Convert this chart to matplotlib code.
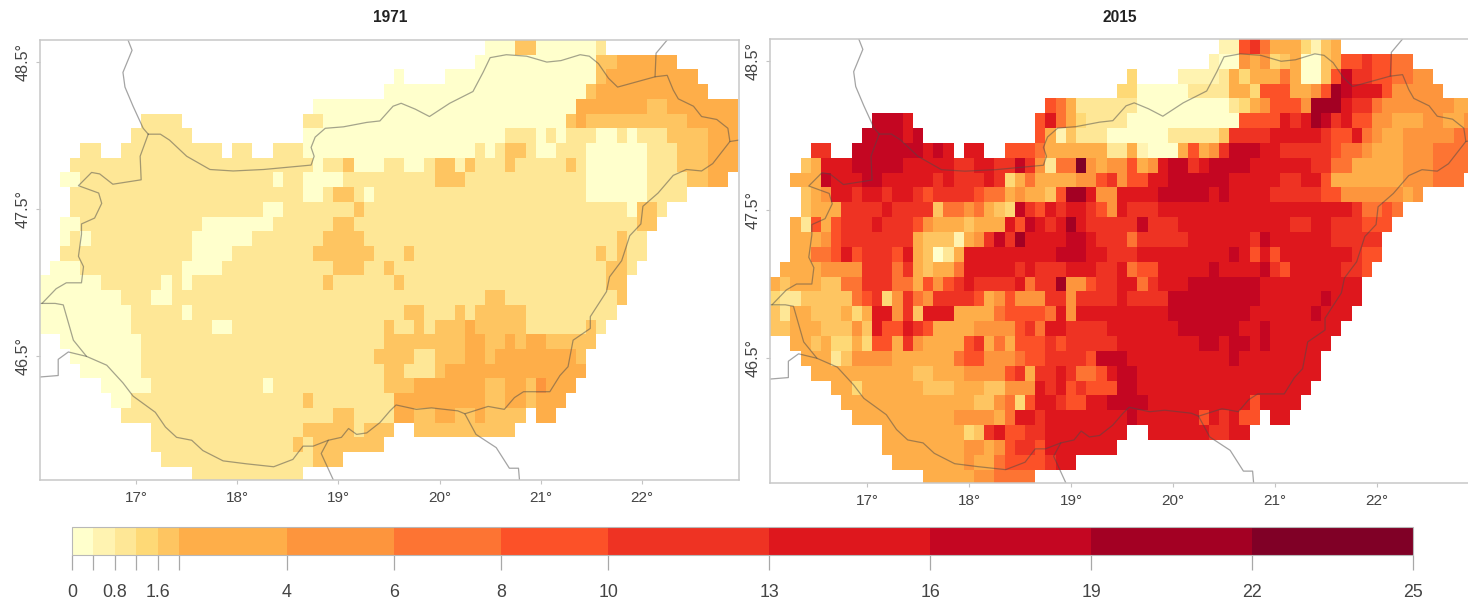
import numpy as np
import matplotlib
matplotlib.use('Agg')
import matplotlib.pyplot as plt
from matplotlib.colors import ListedColormap, BoundaryNorm
from matplotlib.cm import ScalarMappable

plt.rcParams['font.family'] = ['Liberation Sans', 'DejaVu Sans']

W, H = 1468, 601

levels = [0, 0.4, 0.8, 1.2, 1.6, 2, 4, 6, 8, 10, 13, 16, 19, 22, 25]
level_labels = ['0', '', '0.8', '', '1.6', '', '4', '6', '8', '10', '13', '16', '19', '22', '25']
colors = ['#FFFFCC', '#FFF3B1', '#FEE796', '#FED976', '#FEC561', '#FEAE49', '#FD953D', '#FD7433',
          '#FC5128', '#EE3323', '#DE171D', '#C40622', '#A30023', '#800026']

lon_ticks = [17, 18, 19, 20, 21, 22]
lat_ticks = [46.5, 47.5, 48.5]

# class of each 0.1 degree cell, rows from 48.6N down to 45.7N, columns from 16.1E to 22.9E
# 0-9,a-d = colour class, . = no data
grid_1971 = [
    "."*44+"000"+"44"+"0"*6+"2",
    "."*43+"0"*12+"44"+"5"*6,
    "."*35+"0"+"."*4+"0"*15+"4"+"5"*9,
    "."*34+"0"*20+"4"+"5"*11,
    "."*27+"0"*26+"5"*7+"44"+"5"*7,
    "."*10+"2222"+"."*12+"22"+"0"*24+"45"+"4"*10+"5"*5,
    "."*9+"2"*6+"."*11+"0"*20+"222"+"0"+"2"+"0"+"222"+"00"+"2"+"0"+"222"+"4444"+"555",
    "."*4+"22"+".."+"2"*10+"."+"22"+".."+"222"+"0"*17+"2"+"0"+"2"+"44"+"2"+"00"+"222"+"0"*6+"222"+"444"+"555",
    "."*3+"2"*24+"0"+"22"+"4"+"000"+"22"+"00"+"2"+"44"+"1"+"4"+"222"+"4"+"2"*5+"4"+"2"+"0"*6+"222"+"444"+"555",
    "."*2+"00"+"2"*19+"0"+"22"+"0000"+"2"*9+"444"+"2"*12+"0"*6+"2222"+"44"+"55",
    "."*3+"2"*23+"00"+"2"+"44"+"2"+"0"+"2"*21+"0"*6+"2222",
    "."*3+"2"*19+"00"+"2"*7+"4"+"2"*26+"0"+"44"+"2",
    "."*2+"00"+"2"*12+"0"*7+"2"*6+"44"+"2"*28+"44",
    "."*2+"0"+"2"+"0"+"2"*10+"0"*6+"2"*7+"4444"+"2"*25+"4"+"22",
    "."*2+"2"*13+"0000"+"2"*8+"4"*6+"222"+"4"+"2"*18+"4"+"2"+"4"+"22",
    "."+"000"+"2"*10+"0000"+"2"*11+"444"+"22"+"4"+"2"*21+"44"+"2",
    "0"*6+"2"*6+"0"+"2"+"0"+"2"*13+"4"+"2"*6+"4"+"2"*20+"44",
    "0"*8+"222"+"00"+"2"*31+"44"+"2"*11+"4",
    "0"*9+"2"*5+"0"+"2"*21+"44"+"222"+"4"+"2"+"44444"+"2"*9,
    "0"*9+"2"*8+"00"+"2"*15+"4"+"22"+"4"+"2"+"444"+"5"+"44444"+"2"*6+"4"+"2",
    ".."+"0"*8+"2"*24+"4"*8+"55"+"44"+"5"+"4"+"55"+"44444",
    "."*3+"0"*7+"2"*23+"4444"+"22"+"444"+"55"+"4"+"5"*8+"4",
    "."*4+"0"*6+"2"*24+"44"+"222"+"4"+"5"*14,
    "."*6+"0"*5+"2"*11+"0"+"2"*11+"444"+"5"*7+"44"+"55"+"4"+"6"+"555",
    "."*7+"00"+"2"*17+"4"+"2"*8+"5"*9+"44"+"55"+"4"+"555",
    "."*8+"2"*21+"44"+"2222"+"55"+"44"+"55"+"44"+"5"+"4444"+"."+"55",
    "."*11+"2"*15+"4"*5+"2"+"444"+".."+"4"*10,
    "."*11+"2"*14+"4"+"2"+"4"*7,
    "."*12+"2"*15+"444",
    "."*15+"2"*11,
]

grid_2015 = [
    "."*44+"11"+"897"+"555"+"3"+"1"+"45",
    "."*43+"100"+"65"+"6"+"3"+"4"+"5"+"00"+"4"+"5"+"88"+"9"+"88"+"77",
    "."*35+"3"+"."*4+"111"+"1"+"2"+"5"+"3"+"555"+"7"+"5"+"00"+"4"+"8"+"b"+"9"+"9"+"88"+"77"+"66",
    "."*34+"33"+"0"*5+"22"+"22"+"55"+"3"+"888"+"55"+"6"+"8"+"c"+"b"+"a"+"aa"+"8"+"6"*5,
    "."*27+"875"+"2"*6+"0"*9+"23"+"56"+"888"+"6"+"ccc"+"a"+"99"+"7"+"6"*7+"55",
    "."*10+"bbb"+"a"+"."*12+"8a75"+"32222"+"0"*11+"8888"+"a9acb9a"+"88"+"66"+"555"+"66"+"55"+"6",
    "."*9+"bbbb"+"ab"+"."*11+"8514"+"222"+"0"*6+"2"*5+"4"+"9999"+"a"*5+"9"+"88"+"a"+"76"+"55"+"6"*5+"77",
    "."*4+"99"+".."+"b"*7+"aba"+"."+"aa"+".."+"888"+"75"+"55555"+"22"+"51"+"000"+"58569"+"bbb"+"aa"+"9"*5+"8"+"77"+"6"+"555"+"666"+"777"+"7",
    "."*3+"45"+"aaa"+"b"*5+"aa"+"aaa"+"99"+"aa"+"99"+"b"+"9"+"6"+"2"+"77"+"d"+"65"+"66"+"8"+"5"+"6"+"a"+"bb"+"9"+"a"+"bbbb"+"a"*6+"99"+"77"+"5"*5+"666"+"7777",
    "."*2+"555"+"b"+"aaa"+"bb"+"a"*5+"9"+"a"+"999"+"a"+"9"+"357"+"5555"+"66"+"8"+"96"+"88"+"aa"+"b"*6+"a"*5+"99"+"aa"+"8"+"5"*7+"666"+"777",
    "."*3+"456"+"aa"+"9"+"aa"+"9"+"aa"+"98"+"9999"+"8"+"77"+"56554"+"8"+"cc"+"a"+"66"+"a"+"aaa"+"b"*5+"ab"+"aaaa"+"9"*5+"88"+"6"*6+"56",
    "."*3+"4555"+"9999"+"a"+"9999"+"4"+"77"+"67543"+"b"+"98a9"+"aa"+"98"+"6a"+"999"+"a"*19+"9"+"77"+"87",
    "."*2+"52858"+"999"+"a"+"999"+"86"+"555"+"4"+"555"+"a8ba9ac"+"a"+"99"+"9"+"99"+"b"+"999"+"a"*11+"99"+"aa"+"999"+"888",
    "."*2+"55568"+"9"*7+"5"+"444"+"1569b9c"+"aaaa"+"bb"+"a"+"9"+"99"+"7"+"9"*5+"a"*6+"9"+"b"+"a"*6+"999"+"99",
    "."*2+"55"+"77"+"8a8"+"999"+"8a54025"+"a"*9+"bbb"+"aa"+"999"+"a"*9+"ba8a8"+"a"*7+"9"+"88",
    "."+"5555"+"6666"+"999"+"7954"+"55"+"7"+"a"*5+"9a"+"999"+"aaa"+"99"+"a"+"7"+"88"+"a"*5+"b"+"aaaa"+"b"+"98"+"a"*5+"99"+"8",
    "5"+"4"+"55"+"5"+"44"+"77"+"999"+"77"+"5868"+"9a"+"9999"+"a7"+"99"+"c"+"66"+"8"+"99"+"aa"+"79"+"aaa"+"b"*7+"a"*10,
    "3"+"22"+"44444"+"789"+"369"+"76"+"9999"+"8568"+"666"+"99"+"6"+"999"+"9"+"a"+"9999"+"b"*9+"a"*6+"b"+"aaa",
    "4255"+"444"+"535"+"aa"+"694"+"aaa"+"555"+"5"+"7"+"8888"+"7a6"+"aaa"+"a"*6+"b"*8+"a"*6+"b"+"aaa",
    "44"+"555"+"444"+"64a"+"88"+"a98"+"5555"+"6666"+"897"+"aa"+"9999"+"a"*7+"b"*6+"aa"+"b"+"a"*7,
    ".."+"55"+"45"+"33"+"53"+"88"+"596"+"5555"+"89575"+"888"+"98"+"9999"+"9"+"a"*8+"bb"+"a"+"bb"+"a"+"b"+"a"*6,
    "."*3+"555"+"24"+"6666"+"5"*6+"7"+"88"+"666"+"7"+"88"+"9999"+"8"+"b"+"bb"+"a"*10+"b"+"a"*8,
    "."*4+"5"*10+"44"+"555"+"6666"+"895"+"99"+"a9"+"77"+"8a"+"bb"+"a"*18,
    "."*6+"55"+"3"+"5"*6+"444"+"555"+"44"+"666"+"a9a89"+"88"+"8"+"bb"+"a"*17,
    "."*7+"5"*13+"44"+"6738"+"aa"+"9"+"88"+"aa"+"bbbb"+"a"*10+"8"+"aaaa",
    "."*8+"5"*10+"6666"+"57"+"aa"+"9"+"a"*6+"aa"+"b"+"a"*6+"8a9a"+"88"+"."+"aa",
    "."*11+"5"*8+"349a"+"88"+"99"+"a"*6+"aa"+".."+"a"*6+"99"+"aa",
    "."*11+"5"*8+"66"+"568"+"99"+"8"+"a"*7,
    "."*12+"5"*7+"6"+"55"+"7"+"888"+"8"+"9"+"aa",
    "."*15+"5"*5+"66"+"7777",
]

# national borders, degrees E and degrees N
border_main_lon = [17.12, 17.24, 17.33, 17.50, 17.73, 17.96, 18.26, 18.73, 18.76, 18.73, 18.77, 18.87, 19.05, 19.28,
                   19.41, 19.54, 19.62, 19.76, 19.90, 20.10, 20.33, 20.43, 20.50, 20.66, 20.86, 21.06, 21.20, 21.39,
                   21.48, 21.57, 21.67, 21.76, 22.13, 22.25, 22.31, 22.36, 22.51, 22.59, 22.74, 22.85, 22.87, 22.70,
                   22.59, 22.44, 22.31, 22.16, 22.01, 21.99, 21.88, 21.80, 21.68, 21.65, 21.49, 21.49, 21.32, 21.27,
                   21.19, 21.09, 20.83, 20.74, 20.64, 20.48, 20.25, 20.18, 19.92, 19.77, 19.57, 19.51, 19.41, 19.28,
                   19.18, 19.10, 19.03, 18.90, 18.75, 18.65, 18.55, 18.36, 18.09, 17.86, 17.66, 17.55, 17.40, 17.29,
                   17.19, 16.97, 16.87, 16.71, 16.51, 16.38, 16.33, 16.28, 16.20, 16.05]
border_main_lat = [48.01, 48.01, 47.97, 47.86, 47.77, 47.76, 47.77, 47.80, 47.86, 47.92, 47.99, 48.05, 48.06, 48.09,
                   48.10, 48.20, 48.22, 48.18, 48.13, 48.22, 48.30, 48.43, 48.53, 48.55, 48.54, 48.50, 48.51, 48.55,
                   48.54, 48.49, 48.39, 48.33, 48.40, 48.41, 48.31, 48.25, 48.20, 48.13, 48.11, 48.05, 47.96, 47.81,
                   47.76, 47.77, 47.73, 47.61, 47.52, 47.40, 47.32, 47.15, 47.04, 46.94, 46.77, 46.69, 46.61, 46.43,
                   46.37, 46.26, 46.26, 46.22, 46.14, 46.16, 46.11, 46.13, 46.15, 46.14, 46.17, 46.13, 46.05, 45.98,
                   45.97, 46.01, 45.95, 45.93, 45.89, 45.89, 45.80, 45.75, 45.77, 45.79, 45.86, 45.93, 45.95, 46.02,
                   46.12, 46.23, 46.32, 46.44, 46.50, 46.61, 46.73, 46.85, 46.86, 46.86]
border_west_lon = [16.07, 16.21, 16.31, 16.46, 16.48, 16.43, 16.46, 16.46, 16.59, 16.66, 16.63, 16.43, 16.56, 16.64,
                   16.77, 17.05, 17.04, 17.12]
border_west_lat = [46.86, 46.96, 47.00, 47.00, 47.11, 47.18, 47.33, 47.40, 47.44, 47.54, 47.61, 47.66, 47.75, 47.74,
                   47.67, 47.70, 47.86, 48.01]
border_north_lon = [16.92, 16.96, 16.87, 16.89, 16.97, 17.07, 17.12]
border_north_lat = [48.65, 48.58, 48.43, 48.33, 48.20, 48.05, 48.01]
border_ua_lon = [22.25, 22.14, 22.13]
border_ua_lat = [48.65, 48.56, 48.40]
border_ro_lon = [22.87, 22.96]
border_ro_lat = [47.96, 47.97]
border_srb_lon = [20.25, 20.36, 20.56, 20.69, 20.78, 20.79]
border_srb_lat = [46.11, 45.97, 45.88, 45.74, 45.74, 45.66]
border_cro_lon = [18.90, 18.83, 18.95]
border_cro_lat = [45.93, 45.84, 45.66]
border_slo_lon = [16.05, 16.23, 16.23, 16.33, 16.51]
border_slo_lat = [46.36, 46.37, 46.48, 46.53, 46.50]


def decode(rows):
    mids = [(levels[i] + levels[i + 1]) / 2 for i in range(len(colors))]
    out = np.full((len(rows), 69), np.nan)
    for j, row in enumerate(rows):
        for i, c in enumerate(row[:69]):
            if c != '.':
                out[j, i] = mids[int(c, 16)]
    return out


def axes_px(left, top, right, bottom):
    return fig.add_axes([left / W, 1 - bottom / H, (right - left) / W, (bottom - top) / H])


cmap = ListedColormap(colors)
norm = BoundaryNorm(levels, cmap.N)

lon_edges = 16.05 + 0.1 * np.arange(70)
lat_edges = 48.65 - 0.1 * np.arange(31)

fig = plt.figure(figsize=(W / 100, H / 100), dpi=100)

panels = [('1971', grid_1971, (40, 40, 739, 480), 22.96, 390),
          ('2015', grid_2015, (770, 39, 1474, 483), 22.95, 1120)]

for title, rows, box, lon_max, title_x in panels:
    ax = axes_px(*box)
    ax.pcolormesh(lon_edges, lat_edges, decode(rows), cmap=cmap, norm=norm, linewidth=0, antialiased=False)
    border_style = dict(color='#4a4a4a', alpha=0.5, lw=0.9, solid_capstyle='round')
    ax.plot(border_main_lon, border_main_lat, **border_style)
    ax.plot(border_west_lon, border_west_lat, **border_style)
    ax.plot(border_north_lon, border_north_lat, **border_style)
    ax.plot(border_ua_lon, border_ua_lat, **border_style)
    ax.plot(border_ro_lon, border_ro_lat, **border_style)
    ax.plot(border_srb_lon, border_srb_lat, **border_style)
    ax.plot(border_cro_lon, border_cro_lat, **border_style)
    ax.plot(border_slo_lon, border_slo_lat, **border_style)
    ax.set_xlim(16.05, lon_max)
    ax.set_ylim(45.66, 48.65)
    ax.set_xticks(lon_ticks)
    ax.set_xticklabels(['%d°' % v for v in lon_ticks])
    ax.set_yticks(lat_ticks)
    ax.set_yticklabels(['%.1f°' % v for v in lat_ticks], rotation=90, va='center')
    ax.tick_params(axis='x', length=3, width=0.8, color='#c4c4c4', labelcolor='#444444', labelsize=11, pad=5)
    ax.tick_params(axis='y', length=3, width=0.8, color='#c4c4c4', labelcolor='#444444', labelsize=11.6, pad=4)
    for s in ax.spines.values():
        s.set_color('#c8c8c8')
        s.set_linewidth(1.1)
    fig.text(title_x / W, 1 - 17 / H, title, ha='center', va='center', fontsize=11.2, fontweight='bold', color='#222222')

cax = axes_px(72, 527, 1413, 555)
cb = fig.colorbar(ScalarMappable(norm=norm, cmap=cmap), cax=cax, orientation='horizontal',
                  spacing='proportional', ticks=levels)
cb.ax.set_xticklabels(level_labels)
cb.ax.minorticks_off()
cb.ax.tick_params(length=11, width=0.9, color='#a8a8a8', labelcolor='#444444', labelsize=12.8, pad=10)
cb.outline.set_edgecolor('#b8b8b8')
cb.outline.set_linewidth(0.8)

fig.savefig('out.png', dpi=100)
